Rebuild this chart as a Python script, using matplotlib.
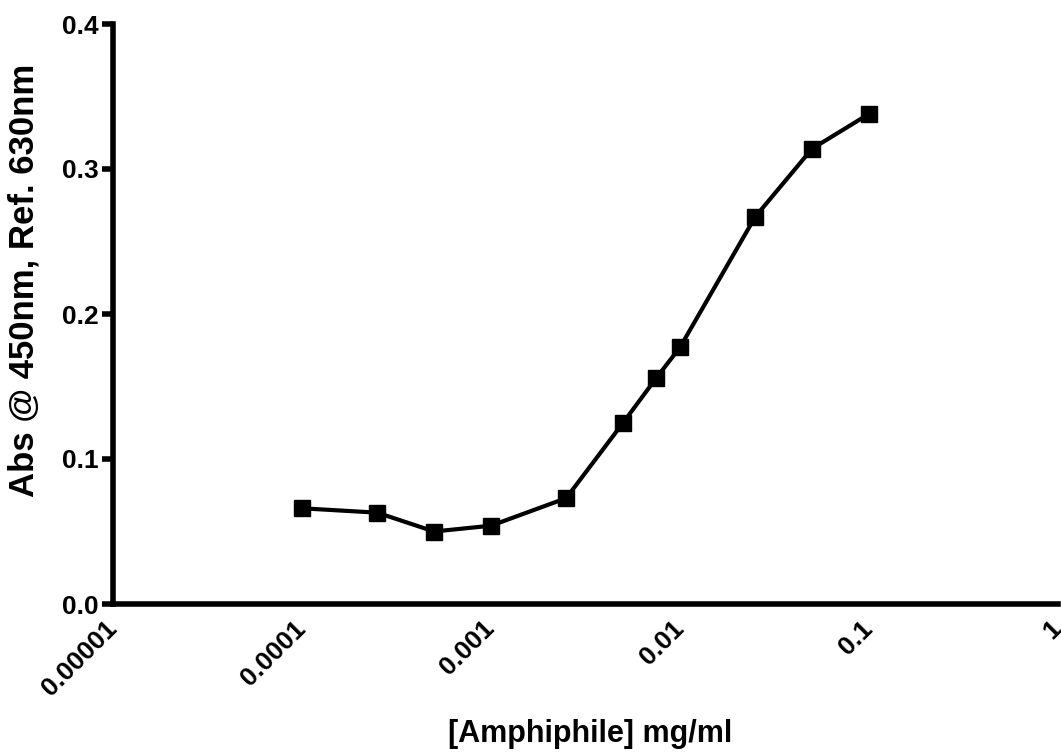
import numpy as np
import matplotlib.pyplot as plt
from matplotlib.ticker import FixedLocator, FixedFormatter

plt.rcParams['font.family'] = ['Liberation Sans', 'DejaVu Sans']
plt.rcParams['font.weight'] = 'bold'

# data
conc = [0.0001, 0.00025, 0.0005, 0.001, 0.0025, 0.005, 0.0075, 0.01, 0.025, 0.05, 0.1]
absorb = [0.066, 0.063, 0.050, 0.054, 0.073, 0.125, 0.156, 0.177, 0.267, 0.314, 0.338]

xticks = [0.00001, 0.0001, 0.001, 0.01, 0.1, 1]
xlabels = ['0.00001', '0.0001', '0.001', '0.01', '0.1', '1']
yticks = [0.0, 0.1, 0.2, 0.3, 0.4]

W, H = 1061, 753
fig = plt.figure(figsize=(W / 100, H / 100), dpi=100)
ax = fig.add_axes([113 / W, (H - 604) / H, (1058 - 113) / W, 580 / H])

ax.plot(conc, absorb, color='black', lw=3, marker='s', ms=11.5,
        markerfacecolor='black', markeredgecolor='black', clip_on=False)

ax.set_xscale('log')
ax.set_xlim(1e-5, 1)
ax.set_ylim(0, 0.4)

ax.xaxis.set_major_locator(FixedLocator(xticks))
ax.xaxis.set_major_formatter(FixedFormatter(xlabels))
ax.xaxis.set_minor_locator(FixedLocator([]))
ax.set_yticks(yticks)
ax.set_yticklabels(['%.1f' % v for v in yticks])

for s in ['top', 'right']:
    ax.spines[s].set_visible(False)
for s in ['left', 'bottom']:
    ax.spines[s].set_linewidth(4)

ax.tick_params(axis='y', length=8, width=4, labelsize=19, pad=2)
ax.tick_params(axis='x', length=0, labelsize=19, pad=15)
for lab in ax.get_xticklabels():
    lab.set_rotation(45)
    lab.set_ha('right')
    lab.set_va('center')
    lab.set_rotation_mode('anchor')
    lab.set_fontweight('bold')
for lab in ax.get_yticklabels():
    lab.set_fontweight('bold')

# axis titles placed in figure pixels (as in the reference)
fig.text(590 / W, 1 - 742 / H, '[Amphiphile] mg/ml', fontsize=22, fontweight='bold',
         ha='center', va='baseline')
fig.text(24 / W, 1 - 280 / H, 'Abs @ 450nm, Ref. 630nm', fontsize=25, fontweight='bold',
         ha='center', va='center', rotation=90)

fig.savefig('out.png', dpi=100)
